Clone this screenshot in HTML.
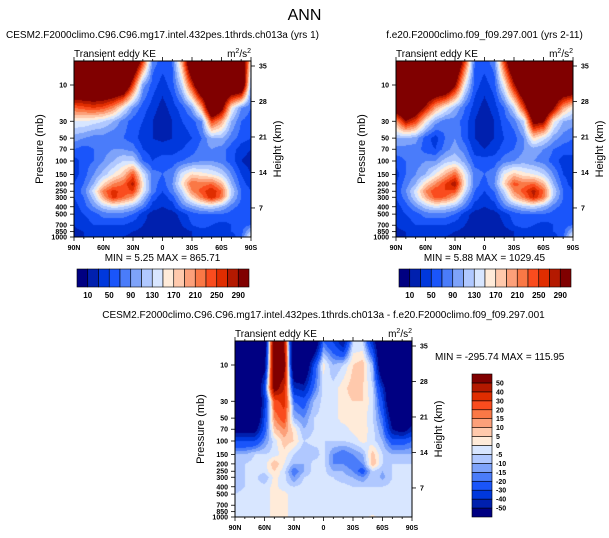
<!DOCTYPE html>
<html><head><meta charset="utf-8">
<style>
html,body{margin:0;padding:0;background:#fff;}
#root{position:relative;width:609px;height:538px;overflow:hidden;font-family:"Liberation Sans",sans-serif;}
canvas{position:absolute;}
svg{position:absolute;left:0;top:0;}
text{font-family:"Liberation Sans",sans-serif;fill:#000;}
</style></head>
<body>
<div id="root">
<canvas id="c1" width="177" height="176" style="left:74px;top:61px"></canvas>
<canvas id="c2" width="177" height="176" style="left:396px;top:61px"></canvas>
<canvas id="c3" width="177" height="176" style="left:235px;top:341px"></canvas>
<svg id="ov" width="609" height="538"></svg>
</div>
<script>
// ---- data ----
const lats = [90,80,70,60,50,40,30,20,10,0,-10,-20,-30,-40,-50,-60,-70,-80,-90];
const levels = [5,10,20,30,50,70,100,150,200,250,300,400,500,700,850,1000];
const pTicks = [10,30,50,70,100,150,200,250,300,400,500,700,850,1000];
const kmTicks = [35,28,21,14,7];
const latTickLabels = ['90N','60N','30N','0','30S','60S','90S'];
const absBounds = [10,30,50,70,90,110,130,150,170,190,210,230,250,270,290];
const absLabels = ['10','50','90','130','170','210','250','290'];
const diffBounds = [-50,-40,-30,-20,-15,-10,-5,0,5,10,15,20,30,40,50];
const palette = ['#000082','#0020ae','#0038dc','#1a55fa','#4a7cfa','#7ea3fa','#b0c8ff','#d8e6ff','#ffebd9','#ffc9ac','#fca07a','#fa7846','#fa4c1e','#e02d00','#b41900','#800000'];

const keA = [
[400,400,400,400,400,400,400,250,80,60,70,200,400,400,400,400,400,400,150],
[400,400,400,400,400,400,250,100,60,40,60,130,260,400,400,400,400,400,100],
[230,240,250,240,210,150,90,60,40,20,40,60,100,200,400,320,160,90,70],
[150,150,140,130,110,80,60,50,30,10,30,50,60,90,250,200,110,70,60],
[100,90,80,80,70,70,60,40,30,25,30,40,50,70,110,110,80,60,50],
[70,60,70,80,90,90,80,50,40,40,40,50,60,80,90,80,60,40,30],
[40,60,70,90,110,130,130,70,50,60,60,70,80,90,90,80,60,30,20],
[40,60,90,120,150,180,240,140,80,70,80,140,170,160,150,130,90,50,30],
[50,70,110,170,210,230,280,160,80,60,90,160,230,220,230,190,110,60,40],
[50,80,140,220,260,240,250,150,80,50,80,130,210,240,270,230,130,70,50],
[50,70,120,200,260,230,200,120,60,40,60,110,170,220,270,220,120,70,50],
[40,60,90,120,140,130,110,80,40,30,40,80,100,120,130,110,80,60,50],
[40,50,60,80,80,80,70,40,20,20,20,40,60,70,70,70,60,50,50],
[30,40,50,50,50,50,40,30,20,15,15,30,50,60,50,40,50,60,70],
[25,30,40,40,40,35,30,25,20,10,15,20,30,40,40,40,50,60,120],
[30,30,35,35,35,30,25,20,15,10,15,20,30,40,40,40,40,60,160]
];
const keB = [
[400,400,400,400,400,400,400,250,70,60,80,250,400,400,400,400,400,400,400],
[400,400,400,400,400,400,300,150,60,40,60,150,280,400,400,400,400,400,400],
[350,400,350,280,200,150,110,70,40,20,40,70,130,250,400,400,300,200,150],
[200,290,250,160,100,80,80,60,30,10,30,60,80,130,320,300,160,110,100],
[110,110,100,60,40,70,90,60,30,20,30,50,60,90,170,140,100,80,70],
[80,80,80,60,50,80,100,80,40,30,40,60,70,90,100,90,70,60,60],
[60,70,80,90,90,120,130,100,60,60,60,80,90,100,90,80,60,40,40],
[40,70,90,110,150,190,230,150,80,70,80,150,180,160,150,130,90,50,40],
[50,80,110,170,210,250,290,160,80,60,90,170,240,220,230,190,110,60,40],
[50,90,140,210,250,250,240,140,70,50,70,130,210,240,280,230,130,70,50],
[50,80,130,190,240,230,190,110,60,40,60,110,180,220,270,220,120,70,50],
[40,60,90,120,140,130,110,80,40,30,40,80,100,120,130,110,80,60,50],
[40,50,60,80,80,80,70,40,20,20,20,40,60,70,70,70,60,50,50],
[30,40,50,50,50,50,40,30,20,15,15,30,50,60,50,40,50,60,70],
[25,30,40,40,40,35,30,25,20,10,15,20,30,40,40,40,50,60,120],
[30,30,35,35,35,30,25,20,15,10,15,20,30,40,40,40,40,60,160]
];
const keDiff = [
[-80,-80,-80,-70,70,50,-80,-80,-80,-20,-30,-50,-5,-5,-40,-80,-80,-80,-80],
[-80,-80,-80,-60,70,60,-80,-80,-30,2,-10,-5,5,8,-10,-80,-80,-80,-80],
[-80,-80,-80,-30,60,40,-40,-45,-20,-3,-3,3,8,5,-5,-40,-80,-80,-80],
[-80,-80,-80,-40,25,35,-20,-25,-10,-3,-3,3,5,5,-3,-30,-80,-80,-80],
[-80,-80,-80,-30,15,25,-10,-15,-5,-3,-3,3,3,3,-5,-20,-60,-80,-60],
[-60,-60,-60,-25,8,15,3,-10,-5,-3,-3,-3,2,3,-3,-15,-50,-60,-45],
[-30,-30,-30,-15,-3,8,5,-5,-3,-5,-5,-5,-3,2,-3,-10,-25,-25,-20],
[-10,-10,-5,-5,-3,3,-5,-10,-8,-3,-15,-20,-15,-10,8,-5,-10,-10,-10],
[-10,-5,-3,-3,10,0,-10,-10,-3,-3,-15,-15,-20,-15,10,-5,-5,-5,-5],
[-10,-5,-3,-3,5,-3,-20,-10,-3,-3,-10,-10,-15,-25,-5,-10,-5,-3,-3],
[-10,-5,-3,-10,2,-3,-15,-5,-3,-3,-5,-8,-10,-15,-5,-12,-5,-3,-3],
[-8,-5,-3,-3,2,-3,-5,-3,-3,-3,-3,-3,-5,-5,-5,-5,-3,-3,-3],
[-5,-3,-3,-3,2,2,-3,-3,-3,-3,-3,-3,-3,-3,-3,-3,-3,-3,-3],
[-3,-3,-3,-3,2,2,-3,-3,-3,-3,-3,-3,-3,-3,-3,-3,-3,-3,-3],
[-3,-3,-3,-3,2,2,-3,-3,-3,-3,-3,-3,-3,-3,-3,-3,-3,-3,-3],
[-3,-3,-3,-3,2,2,-3,-3,-3,-3,-3,-3,-3,-3,2,-3,-3,-3,-3]
];

// ---- axis functions ----
const W = 177, H = 176;
function xOfLat(lat){ return (90 - lat) / 180 * W; }
function yOfP(p){ return 24 + 76 * (Math.log10(p) - 1); }
function yOfKm(km){ return 5 + (35 - km) * 5.07; }
const logLev = levels.map(p => Math.log10(p));

function hexRGB(h){ return [parseInt(h.substr(1,2),16),parseInt(h.substr(3,2),16),parseInt(h.substr(5,2),16)]; }
const palRGB = palette.map(hexRGB);
function binOf(v, bounds){ let k=0; while(k<bounds.length && v>=bounds[k]) k++; return k; }

function sample(grid, lat, lp){
  let fx = (90 - lat) / 10; fx = Math.max(0, Math.min(lats.length-1.0001, fx));
  const i = Math.floor(fx), tx = fx - i;
  let j = 0;
  if (lp <= logLev[0]) { j = 0; lp = logLev[0]; }
  else if (lp >= logLev[logLev.length-1]) { j = logLev.length-2; lp = logLev[logLev.length-1]; }
  else { while (j < logLev.length-2 && lp > logLev[j+1]) j++; }
  const ty = (lp - logLev[j]) / (logLev[j+1] - logLev[j]);
  const a = grid[j][i], b = grid[j][i+1], c = grid[j+1][i], d = grid[j+1][i+1];
  return (a*(1-tx)+b*tx)*(1-ty) + (c*(1-tx)+d*tx)*ty;
}
function draw(id, grid, bounds){
  const cv = document.getElementById(id), ctx = cv.getContext('2d');
  const img = ctx.createImageData(W, H);
  for (let y=0;y<H;y++){
    const lp = 1 + (y + 0.5 - 24) / 76;
    for (let x=0;x<W;x++){
      const lat = 90 - 180 * (x + 0.5) / W;
      const v = sample(grid, lat, lp);
      const c = palRGB[binOf(v, bounds)];
      const o = (y*W + x)*4;
      img.data[o]=c[0]; img.data[o+1]=c[1]; img.data[o+2]=c[2]; img.data[o+3]=255;
    }
  }
  ctx.putImageData(img, 0, 0);
}
draw('c1', keA, absBounds);
draw('c2', keB, absBounds);
draw('c3', keDiff, diffBounds);

// ---- annotations ----
const NS = 'http://www.w3.org/2000/svg';
const ov = document.getElementById('ov');
function el(tag, attrs, txt){
  const e = document.createElementNS(NS, tag);
  for (const k in attrs) e.setAttribute(k, attrs[k]);
  if (txt !== undefined) e.textContent = txt;
  ov.appendChild(e); return e;
}
function txt(x,y,s,size,anchor,name,extra){
  const t = el('text', Object.assign({x:x,y:y,'font-size':size,'text-anchor':anchor||'start'}, extra||{}), s);
  
  
  return t;
}
let t0 = txt(304.5, 20, 'ANN', 16, 'middle', 'figure-title');

function axes(L, T, prefix){
  const fr = el('rect', {x:L, y:T, width:W, height:H, fill:'none', stroke:'#000', 'stroke-width':1});
  
  
  for (let lat=90; lat>=-90; lat-=10){
    const x = L + xOfLat(lat), major = (lat % 30 === 0);
    const len = major ? 4 : 2;
    const tb = el('line', {x1:x, y1:T+H, x2:x, y2:T+H+len, stroke:'#000', 'stroke-width':0.8});
    
    
    const tt = el('line', {x1:x, y1:T, x2:x, y2:T-len, stroke:'#000', 'stroke-width':0.8});
    
    
  }
  latTickLabels.forEach((s, k) => {
    const lat = 90 - 30*k;
    txt(L + xOfLat(lat), T + H + 13, s, 7, 'middle', prefix + '-x-tick-label', {'font-weight':'bold'});
  });
  pTicks.forEach(p => {
    const y = T + yOfP(p);
    const tl = el('line', {x1:L-4, y1:y, x2:L, y2:y, stroke:'#000', 'stroke-width':0.8});
    
    
    txt(L-7, y+2.5, String(p), 7, 'end', prefix + '-y-tick-label', {'font-weight':'bold'});
  });
  kmTicks.forEach(km => {
    const y = T + yOfKm(km);
    const tr = el('line', {x1:L+W, y1:y, x2:L+W+4, y2:y, stroke:'#000', 'stroke-width':0.8});
    
    
    txt(L+W+8, y+2.5, String(km), 7, 'start', prefix + '-height-tick-label', {'font-weight':'bold'});
  });
  txt(L-31, T+H/2, 'Pressure (mb)', 11, 'middle', prefix + '-y-axis-title', {transform:'rotate(-90 '+(L-31)+' '+(T+H/2)+')'});
  txt(L+W+30, T+H/2, 'Height (km)', 11, 'middle', prefix + '-height-axis-title', {transform:'rotate(-90 '+(L+W+30)+' '+(T+H/2)+')'});
  txt(L, T-4, 'Transient eddy KE', 10, 'start', prefix + '-subtitle');
  const u = txt(L+W, T-4, 'm', 10, 'end', prefix + '-units');
  u.innerHTML = 'm<tspan font-size="7" dy="-4">2</tspan><tspan dy="4">/s</tspan><tspan font-size="7" dy="-4">2</tspan>';
}
axes(74, 61, 'panel1');
axes(396, 61, 'panel2');
axes(235, 341, 'panel3');

txt(162.5, 38, 'CESM2.F2000climo.C96.C96.mg17.intel.432pes.1thrds.ch013a (yrs 1)', 10, 'middle', 'panel1-title');
txt(484.5, 38, 'f.e20.F2000climo.f09_f09.297.001 (yrs 2-11)', 10, 'middle', 'panel2-title');
txt(323.5, 318, 'CESM2.F2000climo.C96.C96.mg17.intel.432pes.1thrds.ch013a - f.e20.F2000climo.f09_f09.297.001', 10, 'middle', 'panel3-title');
txt(162.5, 261, 'MIN =   5.25  MAX = 865.71', 10, 'middle', 'panel1-min-max');
txt(484.5, 261, 'MIN =   5.88  MAX = 1029.45', 10, 'middle', 'panel2-min-max');
txt(435, 360, 'MIN = -295.74  MAX = 115.95', 10, 'start', 'panel3-min-max');

function hbar(L, T, prefix){
  const bw = 172/16;
  palette.forEach((c, k) => {
    const r = el('rect', {x:L+k*bw, y:T, width:bw, height:18, fill:c, stroke:'#000', 'stroke-width':0.6});
    
    
  });
  absLabels.forEach((s, k) => {
    txt(L + (2*k+1)*bw, T+29, s, 8, 'middle', prefix + '-colorbar-label', {'font-weight':'bold'});
  });
}
hbar(77, 269, 'panel1');
hbar(399, 269, 'panel2');

const vbh = 143/16;
palette.forEach((c, k) => {
  const r = el('rect', {x:472, y:374 + (15-k)*vbh, width:20, height:vbh, fill:c, stroke:'#000', 'stroke-width':0.6});
  
  
});
diffBounds.forEach((b, k) => {
  txt(496, 374 + (15-k)*vbh + 2.5, String(b), 7, 'start', 'panel3-colorbar-label', {'font-weight':'bold'});
});
</script>
</body></html>
